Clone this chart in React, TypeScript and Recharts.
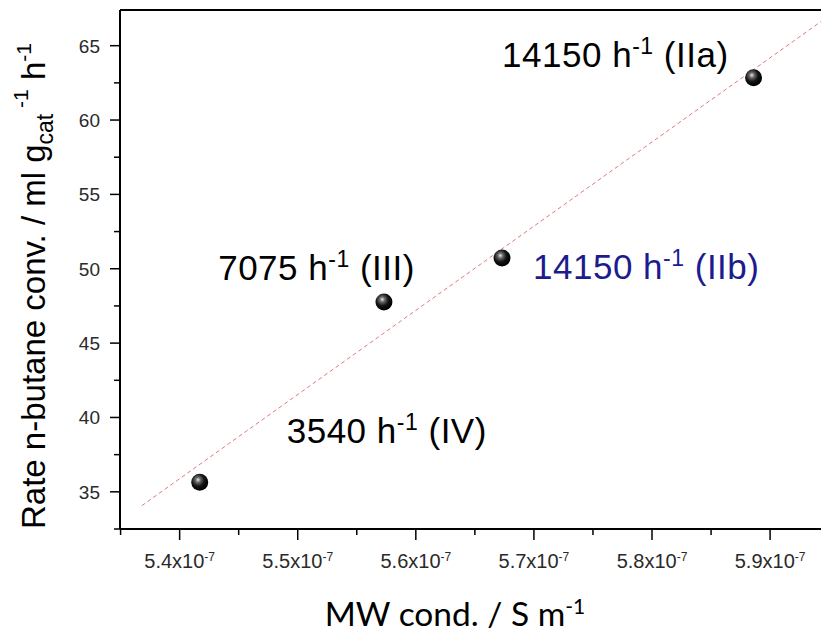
import React from "react";
import { ScatterChart, Scatter, XAxis, YAxis, ReferenceLine } from "recharts";

// ---- data (x in units of 1e-7 S m^-1) ----
const sampleIds = ["IV", "III", "IIb", "IIa"];
const ghsvLabels = ["3540", "7075", "14150", "14150"];
const mwCond = [5.417, 5.573, 5.673, 5.886];
const rateConv = [35.64, 47.77, 50.72, 62.85];

const fitX = [5.368, 5.943];
const fitY = [34.07, 66.62];

const xMajorTicks = [5.4, 5.5, 5.6, 5.7, 5.8, 5.9];
const xMinorTicks = [5.35, 5.45, 5.55, 5.65, 5.75, 5.85];
const xTickMantissa = ["5.4", "5.5", "5.6", "5.7", "5.8", "5.9"];
const xTickExponent = "-7";
const yMajorTicks = [35, 40, 45, 50, 55, 60, 65];
const yMinorTicks = [32.5, 37.5, 42.5, 47.5, 52.5, 57.5, 62.5];

const X_DOMAIN: [number, number] = [5.3495, 5.9431];
const Y_DOMAIN: [number, number] = [32.5, 67.4];

const points = mwCond.map((x, i) => ({ x, y: rateConv[i], id: sampleIds[i], ghsv: ghsvLabels[i], idx: i }));

// label placement (styles, not data)
const labelStyle = [
  { dx: 87, dy: -39, anchor: "start", color: "#000" },
  { dx: 31, dy: -22, anchor: "end", color: "#000" },
  { dx: 31, dy: 21, anchor: "start", color: "#1c1c8e" },
  { dx: -25, dy: -11, anchor: "end", color: "#000" },
];

const FONT = "'Liberation Sans', Arial, sans-serif";

const Ball = (props: any) => {
  const { cx, cy, payload } = props;
  if (cx == null || cy == null) return null;
  const i = payload.idx;
  const st = labelStyle[i];
  const gid = `ballGrad${i}`;
  return (
    <g>
      <defs>
        <radialGradient id={gid} cx="40%" cy="38%" r="60%" fx="40%" fy="35%">
          <stop offset="0%" stopColor="#e8e8e8" />
          <stop offset="25%" stopColor="#6a6a6a" />
          <stop offset="60%" stopColor="#151515" />
          <stop offset="100%" stopColor="#000" />
        </radialGradient>
      </defs>
      <circle cx={cx} cy={cy} r={8.5} fill={`url(#${gid})`} />
      <text
        x={cx + st.dx}
        y={cy + st.dy}
        textAnchor={st.anchor}
        fill={st.color}
        fontFamily={FONT}
        fontSize={35}
        letterSpacing={0.5}
      >
        {payload.ghsv} h
        <tspan dy={-13} fontSize={23}>-1</tspan>
        <tspan dy={13}> ({payload.id})</tspan>
      </text>
    </g>
  );
};

const XTick = (props: any) => {
  const { x, y, payload } = props;
  const v = payload.value;
  const majorIdx = xMajorTicks.findIndex((t) => Math.abs(t - v) < 1e-6);
  const isMajor = majorIdx >= 0;
  return (
    <g>
      <line x1={x} y1={y} x2={x} y2={y + (isMajor ? 11 : 6)} stroke="#000" strokeWidth={1.5} />
      {isMajor && (
        <text x={x} y={y + 39} textAnchor="middle" fill="#2a2a2a" fontFamily={FONT} fontSize={20}>
          {xTickMantissa[majorIdx]}x10
          <tspan dy={-7} fontSize={12}>{xTickExponent}</tspan>
        </text>
      )}
    </g>
  );
};

const YTick = (props: any) => {
  const { x, y, payload } = props;
  const v = payload.value;
  const isMajor = yMajorTicks.some((t) => Math.abs(t - v) < 1e-6);
  return (
    <g>
      <line x1={x - (isMajor ? 10 : 6)} y1={y} x2={x} y2={y} stroke="#000" strokeWidth={1.5} />
      {isMajor && (
        <text x={x - 20} y={y + 7} textAnchor="end" fill="#2a2a2a" fontFamily={FONT} fontSize={19}>
          {v}
        </text>
      )}
    </g>
  );
};

export default function App() {
  return (
    <div style={{ position: "fixed", left: 0, top: 0, width: 821, height: 634, overflow: "hidden", background: "#fff" }}>
      <ScatterChart width={821} height={634} margin={{ top: 10, right: 0, bottom: 65, left: 0 }}>
        <XAxis
          type="number"
          dataKey="x"
          domain={X_DOMAIN}
          ticks={[...xMinorTicks, ...xMajorTicks].sort((a, b) => a - b)}
          allowDataOverflow
          height={40}
          tickSize={0}
          tickMargin={0}
          tickLine={false}
          axisLine={{ stroke: "#000", strokeWidth: 2 }}
          tick={<XTick />}
          interval={0}
        />
        <YAxis
          type="number"
          dataKey="y"
          domain={Y_DOMAIN}
          ticks={[...yMinorTicks, ...yMajorTicks].sort((a, b) => a - b)}
          allowDataOverflow
          width={120}
          tickSize={0}
          tickMargin={0}
          tickLine={false}
          axisLine={{ stroke: "#000", strokeWidth: 2 }}
          tick={<YTick />}
          interval={0}
        />
        <ReferenceLine y={Y_DOMAIN[1]} stroke="#000" strokeWidth={2} ifOverflow="visible" />
        <ReferenceLine
          segment={[
            { x: fitX[0], y: fitY[0] },
            { x: fitX[1], y: fitY[1] },
          ]}
          stroke="#e07a7a"
          strokeWidth={1}
          strokeDasharray="4 3"
          ifOverflow="visible"
        />
        <Scatter data={points} shape={<Ball />} isAnimationActive={false} />
      </ScatterChart>
      <svg
        width={821}
        height={634}
        style={{ position: "absolute", left: 0, top: 0, pointerEvents: "none" }}
      >
        <text
          transform="translate(45 286) rotate(-90)"
          textAnchor="middle"
          fontFamily={FONT}
          fontSize={33}
          fill="#000"
        >
          Rate n-butane conv. / ml g
          <tspan dy={8} fontSize={23}>cat</tspan>
          <tspan dy={-25} fontSize={21}> -1</tspan>
          <tspan dy={17} fontSize={33}> h</tspan>
          <tspan dy={-14} fontSize={21}>-1</tspan>
        </text>
        <text
          x={455}
          y={626}
          textAnchor="middle"
          fontFamily="Lato, 'Open Sans', sans-serif"
          fontSize={33.5}
          fill="#000"
        >
          MW cond. / S m
          <tspan dy={-12} fontSize={21}>-1</tspan>
        </text>
      </svg>
    </div>
  );
}
